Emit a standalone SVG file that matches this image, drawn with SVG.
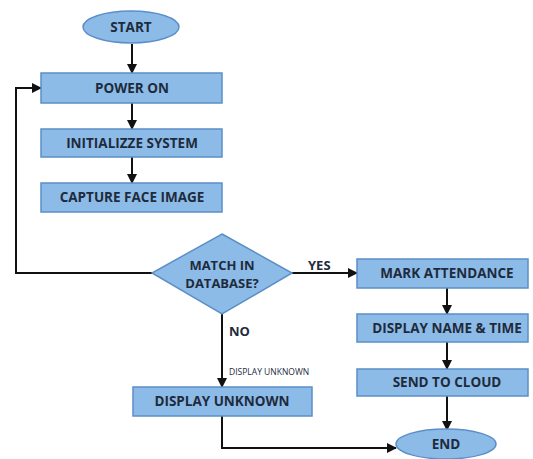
<svg xmlns="http://www.w3.org/2000/svg" width="533" height="459" viewBox="0 0 533 459">
<defs>
<marker id="ah" markerWidth="10" markerHeight="10" refX="9" refY="5" orient="auto" markerUnits="userSpaceOnUse">
<path d="M0,0 L10,5 L0,10 Z" fill="#111"/>
</marker>
<style>
.n{fill:#8dbbe8;stroke:#5b8fc7;stroke-width:1.5}
.t{font-family:"Open Sans","Liberation Sans",sans-serif;font-weight:bold;font-size:13.5px;fill:#1e2b3c;text-anchor:middle}
.c{fill:none;stroke:#111;stroke-width:2;marker-end:url(#ah)}
.l{font-family:"Open Sans","Liberation Sans",sans-serif;font-weight:bold;font-size:13px;fill:#1e2b3c}
.s{font-family:"Open Sans","Liberation Sans",sans-serif;font-size:8.5px;fill:#1e2b3c}
</style>
</defs>
<rect width="533" height="459" fill="#ffffff"/>
<g id="connectors">
<path class="c" d="M132,44 V73"/>
<path class="c" d="M132,103 V129"/>
<path class="c" d="M132,157 V183"/>
<path class="c" d="M152,273 H16 V88 H41"/>
<path class="c" d="M292,273 H357"/>
<path class="c" d="M222,314 V387"/>
<path class="c" d="M447,288 V314"/>
<path class="c" d="M447,342 V369"/>
<path class="c" d="M447,396 V430"/>
<path class="c" d="M222,416 V448 H396"/>
<text class="l" x="308" y="270">YES</text>
<text class="l" x="229" y="336">NO</text>
<text class="s" x="229" y="375">DISPLAY UNKNOWN</text>
</g>
<g id="start"><ellipse class="n" cx="131" cy="27" rx="48" ry="16"/><text class="t" x="131" y="32">START</text></g>
<g id="power"><rect class="n" x="41" y="73" width="181" height="30"/><text class="t" x="132" y="93">POWER ON</text></g>
<g id="init"><rect class="n" x="41" y="129" width="181" height="28"/><text class="t" x="132" y="148">INITIALIZZE SYSTEM</text></g>
<g id="capture"><rect class="n" x="41" y="183" width="181" height="29"/><text class="t" x="132" y="202">CAPTURE FACE IMAGE</text></g>
<g id="match"><polygon class="n" points="222,234 292,273 222,314 152,273"/><text class="t" x="222" y="270" style="font-size:13px"><tspan x="222">MATCH IN</tspan><tspan x="222" dy="18">DATABASE?</tspan></text></g>
<g id="mark"><rect class="n" x="357" y="259" width="171" height="29"/><text class="t" x="447" y="278">MARK ATTENDANCE</text></g>
<g id="dispname"><rect class="n" x="357" y="314" width="171" height="28"/><text class="t" x="447" y="333">DISPLAY NAME &amp; TIME</text></g>
<g id="cloud"><rect class="n" x="357" y="369" width="171" height="27"/><text class="t" x="447" y="387">SEND TO CLOUD</text></g>
<g id="unknown"><rect class="n" x="133" y="387" width="179" height="29"/><text class="t" x="222" y="406">DISPLAY UNKNOWN</text></g>
<g id="end"><ellipse class="n" cx="446" cy="444" rx="50" ry="15"/><text class="t" x="446" y="449">END</text></g>
</svg>
